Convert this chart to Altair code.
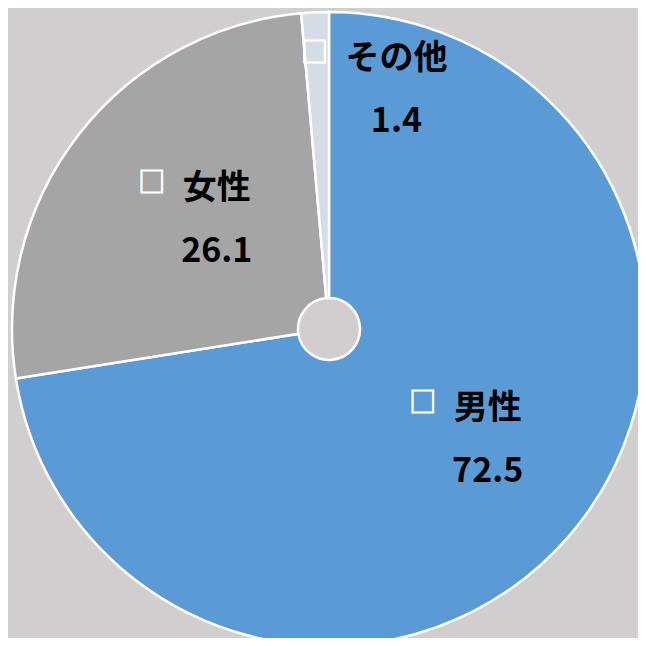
import altair as alt
import pandas as pd

# ---- data ----
categories = ["男性", "女性", "その他"]
values = [72.5, 26.1, 1.4]
value_labels = ["72.5", "26.1", "1.4"]
colors = ["#5B9BD5", "#A5A5A5", "#D6DCE5"]

# ---- style / layout ----
BG = "#D0CECE"
CX, CY = 321, 321
OUTER_R, INNER_R = 317, 31
FONT = "Noto Sans CJK JP"
FS = 34
# label placement: (radius at mid-angle, dx, dy) for the value line
label_place = {"男性": (214, -4, 4), "女性": (136, -5, 7), "その他": (218, 77, 11)}

df = pd.DataFrame({
    "category": categories,
    "value": values,
    "label": value_labels,
    "order": list(range(len(categories))),
})

theta_scale = alt.Scale(domain=[0, 100])
base = alt.Chart(df)

pie = base.mark_arc(
    innerRadius=INNER_R, outerRadius=OUTER_R, stroke="white", strokeWidth=2.5
).encode(
    theta=alt.Theta("value:Q", stack=True, scale=theta_scale),
    color=alt.Color("category:N", scale=alt.Scale(domain=categories, range=colors), legend=None),
    order=alt.Order("order:Q"),
    x=alt.value(CX),
    y=alt.value(CY),
)

lab = base.transform_window(
    cum="sum(value)", sort=[alt.SortField("order")], frame=[None, 0]
).transform_calculate(mid="datum.cum - datum.value / 2")

layers = [pie]
for c in categories:
    r, dx, dy = label_place[c]
    sub = lab.transform_filter(alt.datum.category == c)
    enc = dict(theta=alt.Theta("mid:Q", stack=None, scale=theta_scale), x=alt.value(CX), y=alt.value(CY))
    val = sub.mark_text(radius=r, dx=dx, dy=dy, font=FONT, fontSize=FS, fontWeight="bold",
                        color="black", baseline="middle", align="center").encode(text="label:N", **enc)
    name = sub.mark_text(radius=r, dx=dx, dy=dy - 63, font=FONT, fontSize=FS, fontWeight="bold",
                         color="black", baseline="middle", align="center").encode(text="category:N", **enc)
    sq = sub.mark_text(radius=r, dx=dx - (len(c) * 17 + 31), dy=dy - 68, font=FONT, fontSize=27,
                       color="white", stroke="white", strokeWidth=1, baseline="middle",
                       align="center").encode(text=alt.value("□"), **enc)
    layers += [sq, name, val]

chart = alt.layer(*layers).properties(
    width=630, height=630, background=BG, padding=0, autosize=alt.AutoSizeParams(type="none")
).configure_view(stroke=None)

chart.save("out.html", embed_options={"renderer": "svg", "actions": False})
